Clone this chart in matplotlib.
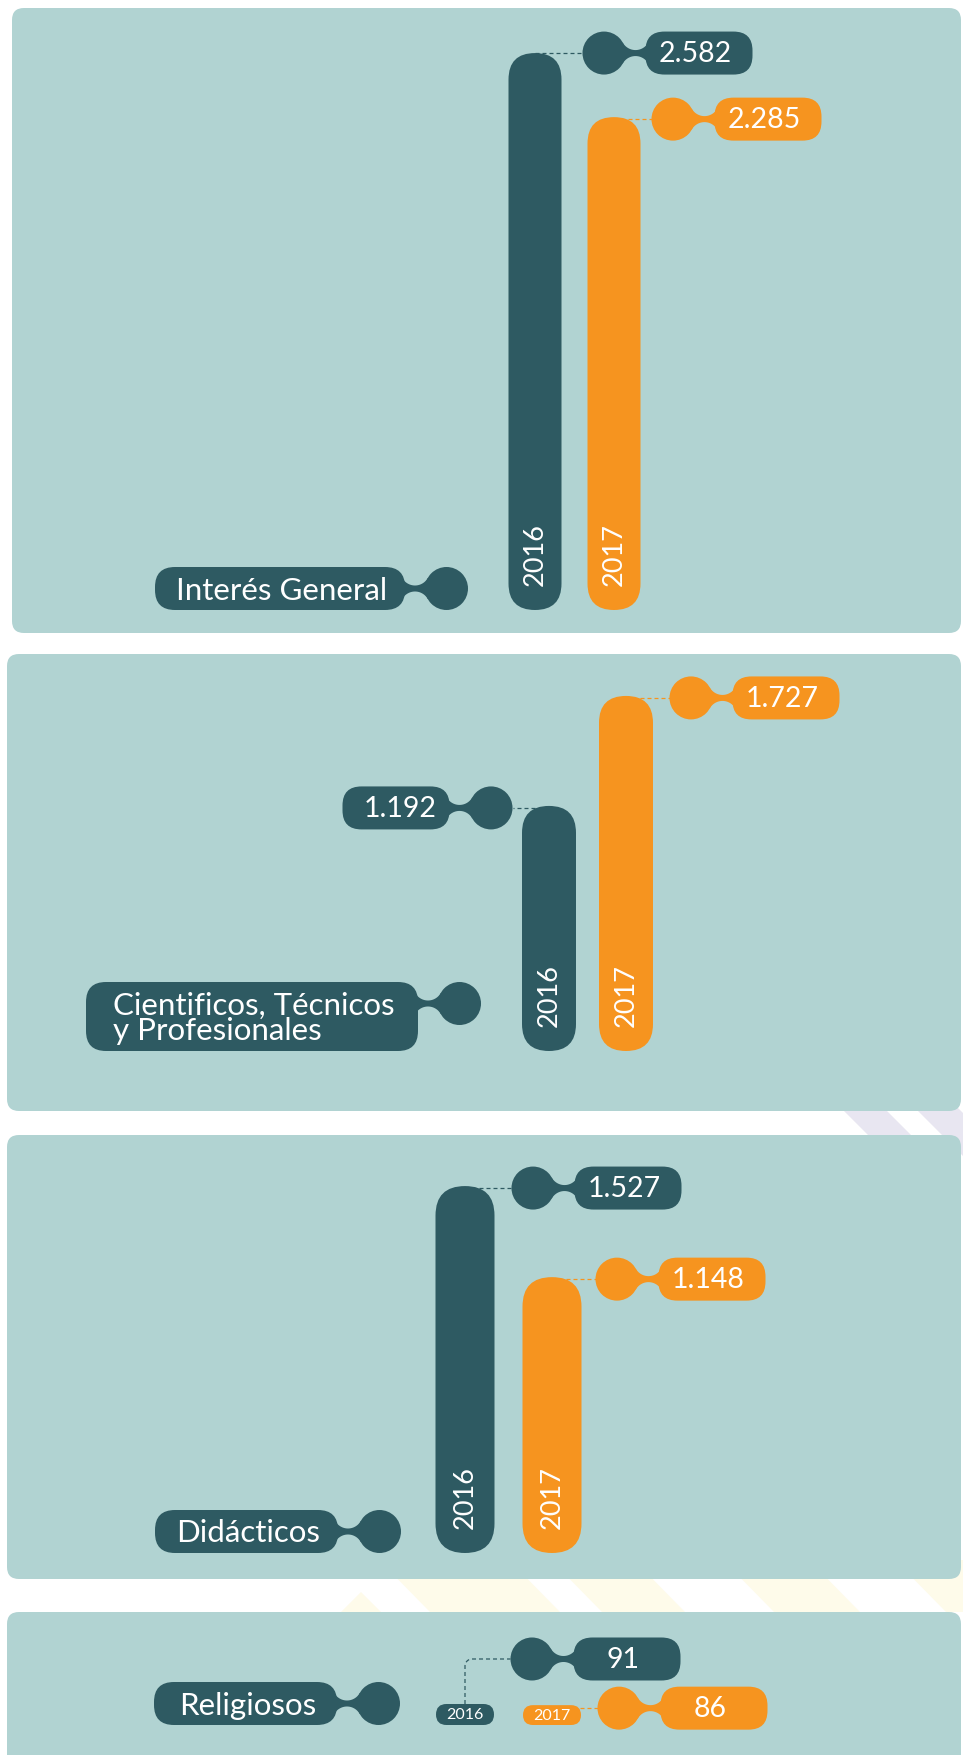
import numpy as np
import matplotlib.pyplot as plt
from matplotlib.patches import FancyBboxPatch, Circle, Polygon

plt.rcParams['font.family'] = ['Lato', 'DejaVu Sans']

categories = ['Interés General', 'Cientificos, Técnicos\ny Profesionales', 'Didácticos', 'Religiosos']
years = ['2016', '2017']
values_2016 = [2582, 1192, 1527, 91]
values_2017 = [2285, 1727, 1148, 86]

PANEL_BG = '#B1D3D2'
DARK = '#2E5A62'
ORANGE = '#F6941F'
year_colors = [DARK, ORANGE]

# layout, in pixels (y grows downwards)
panel_boxes = [(12, 8, 961, 633), (7, 654, 961, 1111), (7, 1135, 961, 1579), (7, 1612, 961, 1790)]
baselines = [610, 1051, 1553, 1725]
px_per_unit = [0.2157, 0.2056, 0.2403, 0.2308]
bar_x = [(535, 614), (549, 626), (465, 552), (465, 552)]
bar_w = [53, 54, 59, 58]
tag_dx = [(69, 59), (-58, 65), (68, 65), (67, 67)]
tag_dy = [(0, 2), (2, 2), (2, 2), (-45, 3)]
cat_x = [(155, 405), (86, 418), (155, 338), (154, 337)]

R = 21.5      # blob radius
GAP = 20      # blob -> box gap
TAG_W = 107


def fmt(v):
    return f'{v:,}'.replace(',', '.')


def neck(ax, cx, cy, side, color, r=R, gap=GAP, t=3.0):
    # concave bridge between a circle and the rounded end of a box
    D = 2 * r + gap
    a = D / 2
    rho = (a * a + t * t - r * r) / (2 * (r - t))
    h = rho + t
    phi = np.linspace(np.arctan2(-h, -a), np.arctan2(-h, a), 40)
    u = a + rho * np.cos(phi)
    v = h + rho * np.sin(phi)
    us = np.concatenate([[0], u, [D], u[::-1]])
    vs = np.concatenate([[0], v, [0], -v[::-1]])
    pts = np.column_stack([cx + side * us, cy + vs])
    ax.add_patch(Polygon(pts, closed=True, fc=color, ec='none', zorder=4))


def tag(ax, cx, cy, side, color, text):
    neck(ax, cx, cy, side, color)
    ax.add_patch(Circle((cx, cy), R, fc=color, ec='none', zorder=5))
    x0 = cx + R + GAP if side > 0 else cx - R - GAP - TAG_W
    ax.add_patch(FancyBboxPatch((x0, cy - R), TAG_W, 2 * R,
                                boxstyle='round,pad=0,rounding_size=19',
                                fc=color, ec='none', zorder=5))
    ax.text(x0 + TAG_W / 2 - side * 4, cy + 1, text, color='white', fontsize=20.5,
            ha='center', va='center', zorder=6)


def dashed(ax, xs, ys, color):
    ax.plot(xs, ys, color=color, lw=0.9, ls=(0, (3.2, 2.4)), zorder=2,
            solid_capstyle='butt')


fig = plt.figure(figsize=(9.63, 17.55), dpi=100)
ax = fig.add_axes([0, 0, 1, 1])
ax.set_xlim(0, 963)
ax.set_ylim(1755, 0)
ax.axis('off')

# faint background stripes peeking between the panels
for x in [843, 917]:
    ax.add_patch(Polygon([(x - 20, 1090), (x + 23, 1090), (x + 93, 1160), (x + 50, 1160)],
                         fc='#E8E6F1', ec='none', zorder=0))
for x0, x1 in [(399, 529), (571, 654), (743, 829), (915, 1000)]:
    ax.add_patch(Polygon([(x0 - 20, 1560), (x1 - 20, 1560), (x1 + 31, 1612), (x0 + 31, 1612)],
                         fc='#FEFBEA', ec='none', zorder=0))
ax.add_patch(Polygon([(341, 1612), (361, 1592), (381, 1612)], fc='#FEFBEA', ec='none', zorder=0))

values = [values_2016, values_2017]
for i, cat in enumerate(categories):
    px0, py0, px1, py1 = panel_boxes[i]
    ax.add_patch(FancyBboxPatch((px0, py0), px1 - px0, py1 - py0,
                                boxstyle='round,pad=0,rounding_size=12',
                                fc=PANEL_BG, ec='none', zorder=1))
    base = baselines[i]

    # category label
    n_lines = cat.count('\n') + 1
    ch = 43 if n_lines == 1 else 69
    cx0, cx1 = cat_x[i]
    ctop = base - ch
    ax.add_patch(FancyBboxPatch((cx0, ctop), cx1 - cx0, ch,
                                boxstyle='round,pad=0,rounding_size=20',
                                fc=DARK, ec='none', zorder=5))
    ccx = cx1 + GAP + R
    neck(ax, ccx, ctop + R, -1, DARK)
    ax.add_patch(Circle((ccx, ctop + R), R, fc=DARK, ec='none', zorder=5))
    ax.text((cx0 + cx1) / 2 + 2, ctop + ch / 2 + 2, cat, color='white', fontsize=22.5,
            ha='center', va='center', multialignment='left', linespacing=0.88, zorder=6)

    for j, year in enumerate(years):
        v = values[j][i]
        color = year_colors[j]
        bx = bar_x[i][j]
        w = bar_w[i]
        hgt = v * px_per_unit[i]
        top = base - hgt
        ax.add_patch(FancyBboxPatch((bx - w / 2, top), w, hgt,
                                    boxstyle=f'round,pad=0,rounding_size={min(w, hgt) / 2}',
                                    fc=color, ec='none', zorder=3))
        if hgt > 3 * w:
            ax.text(bx, base - 24, year, color='white', fontsize=19.5, rotation=90,
                    ha='center', va='bottom', zorder=6)
        else:
            ax.text(bx, top + hgt / 2 + 1, year, color='white', fontsize=11.5,
                    ha='center', va='center', zorder=6)

        side = 1 if tag_dx[i][j] > 0 else -1
        tcx = bx + tag_dx[i][j]
        tcy = top + tag_dy[i][j]
        edge = tcx - side * R
        if abs(tag_dy[i][j]) > 10:
            k = 7
            ang = np.linspace(np.pi, 1.5 * np.pi, 12)
            xs = np.concatenate([[bx], bx + k + k * np.cos(ang), [edge]])
            ys = np.concatenate([[top], tcy + k + k * np.sin(ang), [tcy]])
            dashed(ax, xs, ys, color)
        else:
            dashed(ax, [bx, edge], [tcy, tcy], color)
        tag(ax, tcx, tcy, side, color, fmt(v))

fig.savefig('out.png', dpi=100, facecolor='white')
